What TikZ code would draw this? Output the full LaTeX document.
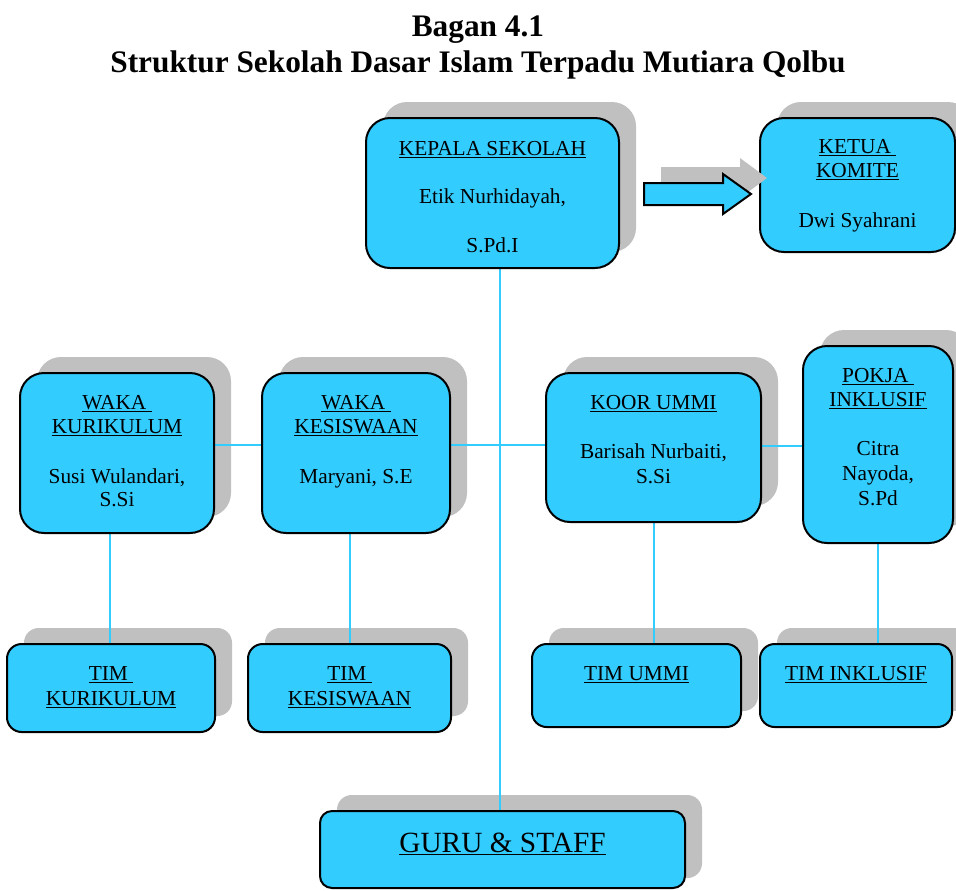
\documentclass[tikz,border=0pt]{standalone}
\usepackage{fontspec}
\setmainfont{Liberation Serif}
\usetikzlibrary{fit}
\definecolor{boxblue}{HTML}{33CCFF}
\definecolor{shadowgray}{HTML}{C0C0C0}
\pgfdeclarelayer{shadows}
\pgfdeclarelayer{lines}
\pgfsetlayers{shadows,lines,main}
\begin{document}
\begin{tikzpicture}[x=0.75pt,y=-0.75pt,
  box/.style={draw=black, line width=1.5pt, fill=boxblue, inner sep=0pt, outer sep=0pt, rounded corners=18pt},
  tbox/.style={box, rounded corners=11pt},
  gbox/.style={box, rounded corners=9pt},
  shade/.style={fill=shadowgray, rounded corners=18pt},
  tshade/.style={fill=shadowgray, rounded corners=11pt},
  conn/.style={draw=boxblue, line width=1.3pt},
  txt/.style={anchor=base, inner sep=0pt, font=\fontsize{16pt}{19pt}\selectfont},
  bigtxt/.style={anchor=base, inner sep=0pt, font=\fontsize{22pt}{26pt}\selectfont},
  ttl/.style={anchor=base, inner sep=0pt, font=\fontsize{23.5pt}{28pt}\selectfont\bfseries}]
\useasboundingbox (0,0) rectangle (956,890);
% title
\node[ttl] (title1) at (478,36) {Bagan 4.1};
\node[ttl] (title2) at (478,72) {Struktur Sekolah Dasar Islam Terpadu Mutiara Qolbu};
% shadows
\begin{pgfonlayer}{shadows}
\fill[shade] (383,102) rectangle (636,252);
\fill[shade] (777,102) rectangle (972,236);
\fill[shade] (37,357) rectangle (231,517);
\fill[shade] (279,357) rectangle (467,517);
\fill[shade] (563,357) rectangle (778,506);
\fill[shade] (820,330) rectangle (970,527);
\fill[tshade] (24,628) rectangle (232,716);
\fill[tshade] (265,628) rectangle (468,716);
\fill[tshade] (549,628) rectangle (758,711);
\fill[tshade] (777,628) rectangle (969,711);
\fill[tshade] (337,795) rectangle (702,878);
\end{pgfonlayer}
% boxes (nodes)
\node[box, fit={(366,118) (619,268)}] (kepala) {};
\node[box, fit={(760,118) (955,252)}] (ketua) {};
\node[box, fit={(20,373) (214,533)}] (wkur) {};
\node[box, fit={(262,373) (450,533)}] (wkes) {};
\node[box, fit={(546,373) (761,522)}] (koor) {};
\node[box, fit={(803,346) (953,543)}] (pokja) {};
\node[tbox, fit={(7,644) (215,732)}] (tkur) {};
\node[tbox, fit={(248,644) (451,732)}] (tkes) {};
\node[tbox, fit={(532,644) (741,727)}] (tummi) {};
\node[tbox, fit={(760,644) (952,727)}] (tinkl) {};
\node[gbox, fit={(320,811) (685,888)}] (guru) {};
% connectors
\coordinate (spine) at (500,0);
\coordinate (hline) at (0,445);
\coordinate (hline2) at (0,446);
\coordinate (vkur) at (110,0);
\coordinate (vkes) at (350,0);
\coordinate (vkoor) at (654,0);
\coordinate (vpok) at (878,0);
\begin{pgfonlayer}{lines}
\draw[conn] (kepala.south -| spine) -- (guru.north -| spine);
\draw[conn] (wkur.east |- hline) -- (wkes.west |- hline);
\draw[conn] (wkes.east |- hline) -- (koor.west |- hline);
\draw[conn] (koor.east |- hline2) -- (pokja.west |- hline2);
\draw[conn] (wkur.south -| vkur) -- (tkur.north -| vkur);
\draw[conn] (wkes.south -| vkes) -- (tkes.north -| vkes);
\draw[conn] (koor.south -| vkoor) -- (tummi.north -| vkoor);
\draw[conn] (pokja.south -| vpok) -- (tinkl.north -| vpok);
\end{pgfonlayer}
% block arrow
\fill[shadowgray] (661,167) -- (740,167) -- (740,158) -- (767,178) -- (740,198) -- (740,189) -- (661,189) -- cycle;
\draw[line width=1.5pt, fill=boxblue, line join=miter] (644,183) -- (723,183) -- (723,174) -- (751,194) -- (723,214) -- (723,205) -- (644,205) -- cycle;
% texts
\node[txt] (kepT1) at (492.5,155) {\underline{KEPALA SEKOLAH}};
\node[txt] (kepT2) at (492.5,203) {Etik Nurhidayah,};
\node[txt] (kepT3) at (492.5,252) {S.Pd.I};
\node[txt] (ketT1) at (857.5,153) {\underline{KETUA\ }};
\node[txt] (ketT2) at (857.5,177) {\underline{KOMITE}};
\node[txt] (ketT3) at (857.5,227) {Dwi Syahrani};
\node[txt] (wkurT1) at (117,409) {\underline{WAKA\ }};
\node[txt] (wkurT2) at (117,433) {\underline{KURIKULUM}};
\node[txt] (wkurT3) at (117,483) {Susi Wulandari,};
\node[txt] (wkurT4) at (117,506) {S.Si};
\node[txt] (wkesT1) at (356,409) {\underline{WAKA\ }};
\node[txt] (wkesT2) at (356,433) {\underline{KESISWAAN}};
\node[txt] (wkesT3) at (356,483) {Maryani, S.E};
\node[txt] (koorT1) at (653.5,409) {\underline{KOOR UMMI}};
\node[txt] (koorT2) at (653.5,458) {Barisah Nurbaiti,};
\node[txt] (koorT3) at (653.5,483) {S.Si};
\node[txt] (pokT1) at (878,382) {\underline{POKJA\ }};
\node[txt] (pokT2) at (878,406) {\underline{INKLUSIF}};
\node[txt] (pokT3) at (878,455) {Citra};
\node[txt] (pokT4) at (878,480) {Nayoda,};
\node[txt] (pokT5) at (878,505) {S.Pd};
\node[txt] (tkurT1) at (111,680) {\underline{TIM\ }};
\node[txt] (tkurT2) at (111,705) {\underline{KURIKULUM}};
\node[txt] (tkesT1) at (349.5,680) {\underline{TIM\ }};
\node[txt] (tkesT2) at (349.5,705) {\underline{KESISWAAN}};
\node[txt] (tummiT) at (636.5,680) {\underline{TIM UMMI}};
\node[txt] (tinklT) at (856,680) {\underline{TIM INKLUSIF}};
\node[bigtxt] (guruT) at (502.5,852) {\underline{GURU \& STAFF}};
\end{tikzpicture}
\end{document}
